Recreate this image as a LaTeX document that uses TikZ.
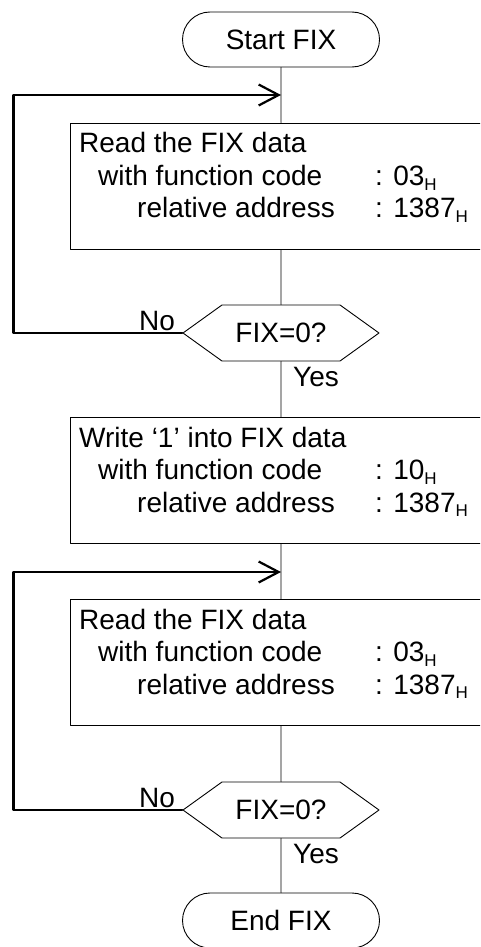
\documentclass[tikz,border=0pt]{standalone}
\usepackage{fontspec}
\setmainfont{Liberation Sans}
\usepackage{tikz}
\usetikzlibrary{shapes,arrows,arrows.meta,shapes.misc,shapes.symbols}
\usetikzlibrary{positioning}

\newcommand{\hsub}{\raisebox{-4.5pt}{\fontsize{17}{17}\selectfont H}}
\newcommand{\fixtext}[3]{\parbox[t]{395pt}{#1\\
	\hspace*{19pt}\makebox[277pt][l]{with function code}: #2\hsub\\
	\hspace*{58pt}\makebox[238pt][l]{relative address}: #3\hsub}}

\tikzset{
	term/.style={draw,rounded rectangle,minimum width=197pt,minimum height=55pt,inner sep=0pt,line width=0.9pt},
	procbox/.style={draw,rectangle,minimum width=422pt,minimum height=126pt,inner sep=0pt,line width=0.9pt},
	testbox/.style={draw,signal,signal to=west and east,signal pointer angle=71.4,minimum width=196pt,minimum height=56pt,inner sep=0pt,line width=0.9pt},
	boxtext/.style={anchor=base west,inner sep=0pt},
	flow/.style={line width=0.9pt},
	backline/.style={line width=2.2pt,-{Straight Barb[length=20pt,width=21pt]}}
}

\begin{document}
\begin{tikzpicture}[line cap=round,line join=round,x=1.0pt,y=-1.0pt,
		font=\fontsize{28}{32.5}\selectfont]
	\useasboundingbox (0,0) rectangle (480,947);
	\clip (0,0) rectangle (480,947);
	\node[term] (start) at (281,39.5) {Start FIX};
	\node[procbox] (read1) at (281,186) {};
	\node[boxtext] (read1txt) at (79,153) {\fixtext{Read the FIX data}{03}{1387}};
	\node[testbox] (test1) at (281,333) {FIX=0?};
	\node[procbox] (write) at (281,480) {};
	\node[boxtext] (writetxt) at (79,447) {\fixtext{Write ‘1’ into FIX data}{10}{1387}};
	\node[procbox] (read2) at (281,662.5) {};
	\node[boxtext] (read2txt) at (79,629) {\fixtext{Read the FIX data}{03}{1387}};
	\node[testbox] (test2) at (281,810) {FIX=0?};
	\node[term] (stop) at (281,920.5) {End FIX};
	% answers
	\node[boxtext] (no1) at (139,330) {No};
	\node[boxtext] (yes1) at (293,386) {Yes};
	\node[boxtext] (no2) at (139,807) {No};
	\node[boxtext] (yes2) at (293,863) {Yes};
	% main flow
	\draw[flow] (start) -- (read1) -- (test1) -- (write) -- (read2) -- (test2) -- (stop);
	% loops back
	\coordinate (join1) at (281,95);
	\coordinate (edge1) at (13.5,95);
	\coordinate (join2) at (281,572);
	\coordinate (edge2) at (13.5,572);
	\draw[backline] (test1.west) -| (edge1) -- (join1);
	\draw[backline] (test2.west) -| (edge2) -- (join2);
\end{tikzpicture}
\end{document}
